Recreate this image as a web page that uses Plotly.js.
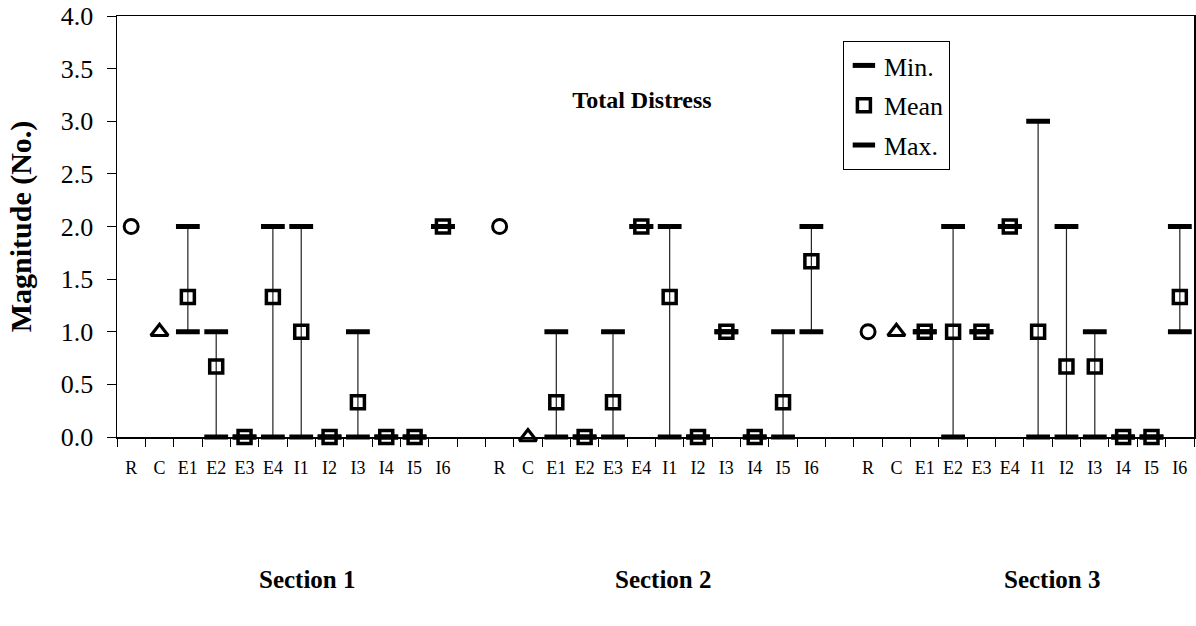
<!DOCTYPE html>
<html>
<head>
<meta charset="utf-8">
<script src="https://cdn.plot.ly/plotly-3.0.1.min.js"></script>
<style>
  html, body { margin: 0; padding: 0; background: #fff; }
  #chart { width: 1196px; height: 626px; }
</style>
</head>
<body>
<div id="chart"></div>
<script>
// ---- data ----
const categories = ['R', 'C', 'E1', 'E2', 'E3', 'E4', 'I1', 'I2', 'I3', 'I4', 'I5', 'I6'];
const sections = ['Section 1', 'Section 2', 'Section 3'];
const chartTitle = 'Total Distress';
const yTitle = 'Magnitude (No.)';
const legendNames = ['Min.', 'Mean', 'Max.'];

// single values for R (circle) and C (triangle), per section
const rValues = [2, 2, 1];
const cValues = [1, 0, 1];

// E1..I6 per section
const s1Min  = [1, 0, 0, 0, 0, 0, 0, 0, 0, 2];
const s1Mean = [1.33, 0.67, 0, 1.33, 1, 0, 0.33, 0, 0, 2];
const s1Max  = [2, 1, 0, 2, 2, 0, 1, 0, 0, 2];

const s2Min  = [0, 0, 0, 2, 0, 0, 1, 0, 0, 1];
const s2Mean = [0.33, 0, 0.33, 2, 1.33, 0, 1, 0, 0.33, 1.67];
const s2Max  = [1, 0, 1, 2, 2, 0, 1, 0, 1, 2];

const s3Min  = [1, 0, 1, 2, 0, 0, 0, 0, 0, 1];
const s3Mean = [1, 1, 1, 2, 1, 0.67, 0.67, 0, 0, 1.33];
const s3Max  = [1, 2, 1, 2, 3, 2, 1, 0, 0, 2];

const mins = [s1Min, s2Min, s3Min];
const means = [s1Mean, s2Mean, s3Mean];
const maxs = [s1Max, s2Max, s3Max];

// ---- build positions (one blank slot between sections) ----
const per = categories.length + 1;
const slot = (s, c) => s * per + c;
const nSlots = sections.length * per - 1;

const tickvals = [], ticktext = [];
sections.forEach((_, s) => categories.forEach((cat, c) => { tickvals.push(slot(s, c)); ticktext.push(cat); }));
const boundaries = [];
for (let i = 0; i <= nSlots; i++) boundaries.push(i - 0.5);

const rx = [], ry = [], cx = [], cy = [];
const tx = [], tMin = [], tMean = [], tMax = [];
const lx = [], ly = [];
sections.forEach((_, s) => {
  rx.push(slot(s, 0)); ry.push(rValues[s]);
  cx.push(slot(s, 1)); cy.push(cValues[s]);
  means[s].forEach((m, k) => {
    const x = slot(s, k + 2);
    tx.push(x); tMin.push(mins[s][k]); tMean.push(m); tMax.push(maxs[s][k]);
    lx.push(x, x, null); ly.push(mins[s][k], maxs[s][k], null);
  });
});

const FONT = '"Liberation Serif", "Times New Roman", serif';
const dash = { symbol: 'line-ew', size: 17, color: '#000', line: { color: '#000', width: 5 } };

const traces = [
  { x: lx, y: ly, mode: 'lines', line: { color: '#222', width: 1.2 }, showlegend: false, hoverinfo: 'skip', cliponaxis: false },
  { x: rx, y: ry, mode: 'markers', marker: { symbol: 'circle-open', size: 14, color: '#000', line: { width: 3, color: '#000' } }, showlegend: false, cliponaxis: false },
  { x: cx, y: cy, mode: 'markers', marker: { symbol: 'triangle-up-open', size: 15, color: '#000', line: { width: 3.2, color: '#000' } }, showlegend: false, cliponaxis: false },
  { x: tx, y: tMin, name: legendNames[0], legendgroup: 'a', mode: 'markers', marker: dash, cliponaxis: false },
  { x: tx, y: tMean, name: legendNames[1], legendgroup: 'b', mode: 'markers', marker: { symbol: 'square-open', size: 13, color: '#000', line: { width: 3.5, color: '#000' } }, cliponaxis: false },
  { x: tx, y: tMax, name: legendNames[2], legendgroup: 'c', mode: 'markers', marker: dash, cliponaxis: false }
];

const sectionX = [0.1773, 0.507, 0.869];

const layout = {
  width: 1196, height: 626,
  margin: { l: 117, r: 2, t: 16, b: 189 },
  paper_bgcolor: '#fff', plot_bgcolor: '#fff',
  font: { family: FONT, color: '#000' },
  title: { text: chartTitle, x: 0.4875, xref: 'paper', y: 1 - 100 / 626, yref: 'container', xanchor: 'center', yanchor: 'middle',
           font: { family: FONT, size: 24, weight: 'bold', color: '#000' } },
  xaxis: {
    range: [-0.5, nSlots - 0.5], tickmode: 'array', tickvals: tickvals, ticktext: ticktext, ticks: '',
    tickfont: { family: FONT, size: 18 }, ticklabelstandoff: 14,
    minor: { tickmode: 'array', tickvals: boundaries, ticks: 'outside', ticklen: 8, tickcolor: '#000', tickwidth: 1 },
    showline: true, linecolor: '#000', linewidth: 1.5, mirror: true, showgrid: false, zeroline: false
  },
  xaxis2: {
    overlaying: 'x', anchor: 'y', side: 'bottom', range: [-0.5, nSlots - 0.5], tickmode: 'array', tickvals: boundaries,
    ticks: 'inside', ticklen: 6, tickcolor: '#000', showticklabels: false, showgrid: false, zeroline: false, showline: false
  },
  yaxis: {
    range: [0, 4], tickmode: 'linear', tick0: 0, dtick: 0.5, tickformat: '.1f', ticks: 'outside', ticklen: 9, tickcolor: '#000',
    tickfont: { family: FONT, size: 26 }, ticklabelstandoff: 8,
    title: { text: yTitle, font: { family: FONT, size: 30, weight: 'bold' }, standoff: 20 },
    showline: true, linecolor: '#000', linewidth: 1.5, mirror: true, showgrid: false, zeroline: false
  },
  yaxis2: {
    overlaying: 'y', anchor: 'x', side: 'left', range: [0, 4], tickmode: 'linear', tick0: 0, dtick: 0.5,
    ticks: 'inside', ticklen: 6, tickcolor: '#000', showticklabels: false, showgrid: false, zeroline: false, showline: false
  },
  showlegend: true,
  legend: {
    x: 0.674, y: 0.9406, xanchor: 'left', yanchor: 'top', bgcolor: '#fff', bordercolor: '#000', borderwidth: 1,
    font: { family: FONT, size: 26 }, traceorder: 'grouped', tracegroupgap: 3
  },
  annotations: sections.map((s, i) => ({
    text: s, xref: 'paper', yref: 'paper', x: sectionX[i], y: (437 - 579) / 421, xanchor: 'center', yanchor: 'middle',
    showarrow: false, font: { family: FONT, size: 25, weight: 'bold' }
  }))
};

Plotly.newPlot('chart', traces, layout, { staticPlot: true, displayModeBar: false });
</script>
</body>
</html>
